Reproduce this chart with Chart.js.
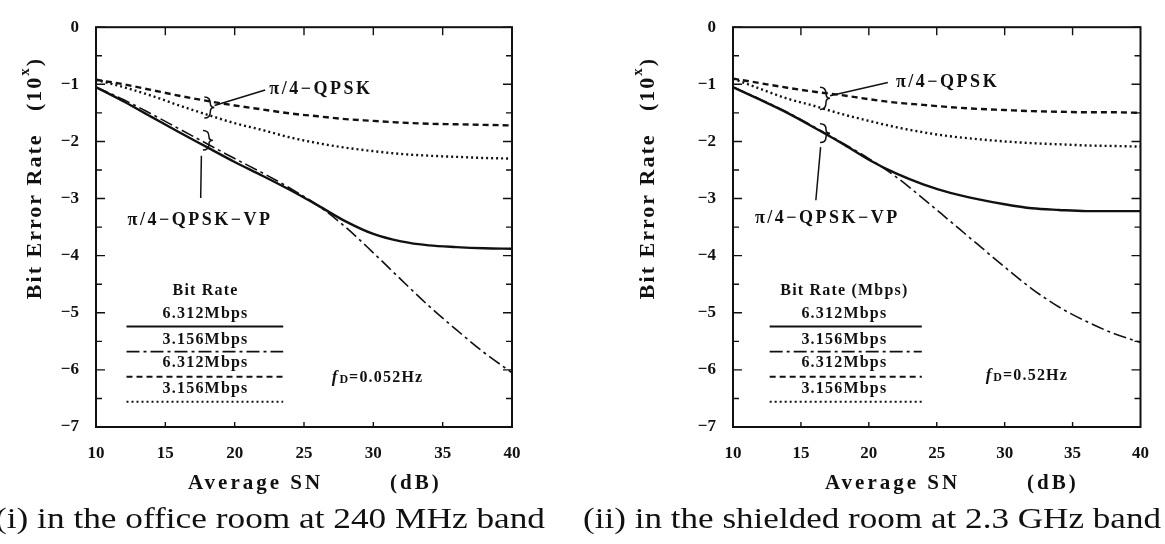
<!DOCTYPE html>
<html>
<head>
<meta charset="utf-8">
<script src="https://cdn.jsdelivr.net/npm/chart.js@4.4.0/dist/chart.umd.min.js"></script>
<style>
  html, body { margin: 0; padding: 0; background: #fff; }
  #wrap { position: relative; width: 1165px; height: 544px; overflow: hidden; }
  canvas { position: absolute; top: 0; }
  #chartOffice { left: 0; }
  #chartShield { left: 582px; }
</style>
</head>
<body>
<div id="wrap">
  <canvas id="chartOffice" width="582" height="544"></canvas>
  <canvas id="chartShield" width="583" height="544"></canvas>
</div>
<script>
// Average SN (dB)
const snr = [10, 12, 14, 16, 18, 20, 22, 24, 26, 28, 30, 32, 34, 36, 38, 40];

// (i) office room, 240 MHz band -- log10(BER)
const officeVp6312   = [-1.05, -1.30, -1.57, -1.84, -2.10, -2.36, -2.60, -2.85, -3.12, -3.40, -3.62, -3.75, -3.82, -3.85, -3.87, -3.88];
const officeVp3156   = [-1.05, -1.27, -1.52, -1.78, -2.04, -2.30, -2.55, -2.82, -3.12, -3.50, -3.95, -4.42, -4.88, -5.30, -5.70, -6.05];
const officeQpsk6312 = [-0.92, -1.00, -1.10, -1.20, -1.29, -1.37, -1.44, -1.51, -1.56, -1.61, -1.64, -1.67, -1.69, -1.70, -1.71, -1.72];
const officeQpsk3156 = [-0.92, -1.05, -1.20, -1.37, -1.53, -1.68, -1.80, -1.93, -2.03, -2.11, -2.17, -2.22, -2.25, -2.27, -2.29, -2.30];

// (ii) shielded room, 2.3 GHz band
const shieldVp6312   = [-1.05, -1.27, -1.50, -1.76, -2.03, -2.32, -2.56, -2.75, -2.90, -3.01, -3.10, -3.17, -3.20, -3.22, -3.22, -3.22];
const shieldVp3156   = [-1.05, -1.26, -1.49, -1.75, -2.02, -2.30, -2.62, -3.00, -3.40, -3.80, -4.20, -4.58, -4.90, -5.15, -5.36, -5.52];
const shieldQpsk6312 = [-0.90, -0.98, -1.06, -1.13, -1.19, -1.26, -1.32, -1.36, -1.40, -1.43, -1.45, -1.47, -1.48, -1.49, -1.49, -1.50];
const shieldQpsk3156 = [-0.90, -1.08, -1.25, -1.38, -1.52, -1.64, -1.75, -1.84, -1.91, -1.96, -2.00, -2.03, -2.05, -2.07, -2.08, -2.09];

const bitRateLabels = ["6.312Mbps", "3.156Mbps", "6.312Mbps", "3.156Mbps"];
const xTickStep = 5;
const yTickStep = 1;

const INK = "#111";
const SERIF = '"Liberation Serif", "DejaVu Serif", serif';

// line styles: VP 6.312, VP 3.156, QPSK 6.312, QPSK 3.156
const lineStyles = [
  { borderWidth: 2.4, borderDash: [] },
  { borderWidth: 1.6, borderDash: [13, 4, 3, 4] },
  { borderWidth: 2.4, borderDash: [6, 4] },
  { borderWidth: 2.4, borderDash: [2, 3] }
];

function series(values, style) {
  return Object.assign({
    data: snr.map((x, i) => ({ x: x, y: values[i] })),
    borderColor: INK,
    pointRadius: 0,
    fill: false,
    cubicInterpolationMode: "monotone"
  }, style);
}

function boldFont(size) {
  return "bold " + size + "px " + SERIF;
}

function drawSpaced(ctx, text, x, y, spacing) {
  ctx.letterSpacing = spacing + "px";
  ctx.fillText(text, x, y);
  ctx.letterSpacing = "0px";
}

function drawBracket(ctx, x, top, bottom) {
  const mid = (top + bottom) / 2;
  ctx.beginPath();
  ctx.moveTo(x - 4, top);
  ctx.quadraticCurveTo(x + 2, top, x + 2, top + (mid - top) * 0.6);
  ctx.quadraticCurveTo(x + 2, mid, x + 6, mid);
  ctx.quadraticCurveTo(x + 2, mid, x + 2, bottom - (bottom - mid) * 0.6);
  ctx.quadraticCurveTo(x + 2, bottom, x - 4, bottom);
  ctx.stroke();
}

// frame, inward ticks and all the printed labels of the paper figure
const paperDecor = {
  id: "paperDecor",
  afterDatasetsDraw(chart, args, o) {
    const { ctx, chartArea: a } = chart;
    const xs = chart.scales.x, ys = chart.scales.y;
    const px = v => xs.getPixelForValue(v);
    const py = v => ys.getPixelForValue(v);
    ctx.save();
    ctx.strokeStyle = INK;
    ctx.fillStyle = INK;

    // frame
    ctx.lineWidth = 2;
    ctx.setLineDash([]);
    ctx.strokeRect(a.left, a.top, a.right - a.left, a.bottom - a.top);

    // inward ticks
    ctx.lineWidth = 1.4;
    ctx.beginPath();
    for (let v = -7; v <= 0; v += 0.5) {
      const len = Number.isInteger(v) ? 9 : 6;
      ctx.moveTo(a.left, py(v)); ctx.lineTo(a.left + len, py(v));
      ctx.moveTo(a.right, py(v)); ctx.lineTo(a.right - len, py(v));
    }
    for (let v = 15; v < 40; v += 5) {
      ctx.moveTo(px(v), a.top); ctx.lineTo(px(v), a.top + 8);
      ctx.moveTo(px(v), a.bottom); ctx.lineTo(px(v), a.bottom - 5);
    }
    ctx.stroke();

    // curve labels with brackets and leaders
    ctx.lineWidth = 1.5;
    drawBracket(ctx, px(o.qpsk.bx), py(o.qpsk.by0), py(o.qpsk.by1));
    drawBracket(ctx, px(o.vp.bx), py(o.vp.by0), py(o.vp.by1));
    ctx.beginPath();
    ctx.moveTo(px(o.qpsk.from[0]), py(o.qpsk.from[1]));
    ctx.lineTo(px(o.qpsk.to[0]), py(o.qpsk.to[1]));
    ctx.moveTo(px(o.vp.from[0]), py(o.vp.from[1]));
    ctx.lineTo(px(o.vp.to[0]), py(o.vp.to[1]));
    ctx.stroke();

    ctx.font = boldFont(18);
    ctx.textBaseline = "middle";
    ctx.textAlign = "left";
    drawSpaced(ctx, "\u03c0/4\u2212QPSK", px(o.qpsk.label[0]), py(o.qpsk.label[1]), 2.5);
    ctx.textAlign = "center";
    drawSpaced(ctx, "\u03c0/4\u2212QPSK\u2212VP", px(o.vp.label[0]), py(o.vp.label[1]), 2.5);

    // bit rate key
    const lg = o.legend;
    ctx.font = boldFont(16);
    ctx.textAlign = "center";
    drawSpaced(ctx, lg.title, px(lg.xc), py(lg.titleY), 1.2);
    bitRateLabels.forEach((t, i) => {
      drawSpaced(ctx, t, px(lg.xc), py(lg.textY[i]), 1.2);
      const st = lineStyles[i];
      ctx.lineWidth = Math.min(st.borderWidth, 2);
      ctx.setLineDash(st.borderDash);
      ctx.beginPath();
      ctx.moveTo(px(lg.x0), py(lg.lineY[i]));
      ctx.lineTo(px(lg.x1), py(lg.lineY[i]));
      ctx.stroke();
    });
    ctx.setLineDash([]);

    // fD
    ctx.textAlign = "left";
    let fx = px(o.fd.at[0]);
    const fy = py(o.fd.at[1]);
    ctx.font = "italic " + boldFont(17);
    ctx.fillText("f", fx, fy);
    fx += ctx.measureText("f").width + 2;
    ctx.font = boldFont(12);
    ctx.fillText("D", fx, fy + 2);
    fx += ctx.measureText("D").width + 1;
    ctx.font = boldFont(16);
    drawSpaced(ctx, "=" + o.fd.text, fx, fy, 1.2);

    // x title
    ctx.font = boldFont(21);
    ctx.textBaseline = "alphabetic";
    drawSpaced(ctx, "Average SN", a.left + 92, a.bottom + 62, 3);
    drawSpaced(ctx, "(dB)", a.left + 294, a.bottom + 62, 3);

    // y title, rotated
    ctx.save();
    ctx.translate(o.yTitleX, o.yTitleY);
    ctx.rotate(-Math.PI / 2);
    ctx.font = boldFont(22);
    ctx.letterSpacing = "2px";
    const main = "Bit Error Rate   (10";
    const w1 = ctx.measureText(main).width;
    ctx.font = boldFont(15);
    const w2 = ctx.measureText("x").width;
    ctx.font = boldFont(22);
    const w3 = ctx.measureText(")").width;
    let sx = -(w1 + w2 + w3) / 2;
    ctx.textAlign = "left";
    ctx.textBaseline = "middle";
    ctx.fillText(main, sx, 0);
    sx += w1;
    ctx.font = boldFont(15);
    ctx.fillText("x", sx, -10);
    sx += w2;
    ctx.font = boldFont(22);
    ctx.fillText(")", sx, 0);
    ctx.restore();

    // caption, fitted to its printed width
    ctx.letterSpacing = "0px";
    ctx.font = "29px " + SERIF;
    const cw = ctx.measureText(o.caption).width;
    ctx.save();
    ctx.translate(o.captionCenter, 520);
    ctx.scale(o.captionWidth / cw, 1);
    ctx.textAlign = "center";
    ctx.textBaseline = "middle";
    ctx.fillText(o.caption, 0, 0);
    ctx.restore();

    ctx.restore();
  }
};

function makeChart(canvasId, values, axisWidth, padRight, decor) {
  return new Chart(document.getElementById(canvasId), {
    type: "line",
    data: {
      datasets: values.map((v, i) => series(v, lineStyles[i]))
    },
    options: {
      responsive: false,
      animation: false,
      layout: { padding: { top: 13, right: padRight, left: 0, bottom: 0 } },
      plugins: {
        legend: { display: false },
        tooltip: { enabled: false },
        paperDecor: decor
      },
      scales: {
        x: {
          type: "linear",
          min: 10,
          max: 40,
          border: { display: false },
          grid: { display: false, drawTicks: false },
          ticks: { stepSize: xTickStep, padding: 16, color: INK, font: { family: SERIF, size: 17, weight: "bold" } },
          afterFit: s => { s.height = 117; }
        },
        y: {
          min: -7,
          max: 0,
          border: { display: false },
          grid: { display: false, drawTicks: false },
          ticks: {
            stepSize: yTickStep,
            padding: 17,
            color: INK,
            font: { family: SERIF, size: 17, weight: "bold" },
            callback: v => (v === 0 ? "0" : "\u2212" + Math.abs(v))
          },
          afterFit: s => { s.width = axisWidth; }
        }
      }
    },
    plugins: [paperDecor]
  });
}

makeChart("chartOffice", [officeVp6312, officeVp3156, officeQpsk6312, officeQpsk3156], 96, 70, {
  qpsk: { bx: 18.1, by0: -1.22, by1: -1.59, from: [18.55, -1.37], to: [22.2, -1.1], label: [22.5, -1.08] },
  vp: { bx: 18.0, by0: -1.81, by1: -2.15, from: [17.6, -2.25], to: [17.55, -2.99], label: [17.5, -3.39] },
  legend: { title: "Bit Rate", x0: 12.2, x1: 23.5, xc: 17.9, titleY: -4.61,
            textY: [-5.02, -5.47, -5.88, -6.34], lineY: [-5.24, -5.68, -6.12, -6.56] },
  fd: { at: [27.0, -6.14], text: "0.052Hz" },
  yTitleX: 35, yTitleY: 178,
  caption: "(i) in the office room at 240 MHz band", captionCenter: 270, captionWidth: 550
});

makeChart("chartShield", [shieldVp6312, shieldVp3156, shieldQpsk6312, shieldQpsk3156], 151, 18, {
  qpsk: { bx: 16.7, by0: -1.05, by1: -1.44, from: [17.15, -1.2], to: [21.4, -0.97], label: [22.0, -0.97] },
  vp: { bx: 16.7, by0: -1.69, by1: -2.02, from: [16.45, -2.1], to: [16.1, -3.03], label: [16.95, -3.34] },
  legend: { title: "Bit Rate (Mbps)", x0: 12.7, x1: 23.9, xc: 18.2, titleY: -4.61,
            textY: [-5.02, -5.47, -5.88, -6.34], lineY: [-5.24, -5.68, -6.12, -6.56] },
  fd: { at: [28.6, -6.1], text: "0.52Hz" },
  yTitleX: 66, yTitleY: 178,
  caption: "(ii) in the shielded room at 2.3 GHz band", captionCenter: 290, captionWidth: 578
});
</script>
</body>
</html>
